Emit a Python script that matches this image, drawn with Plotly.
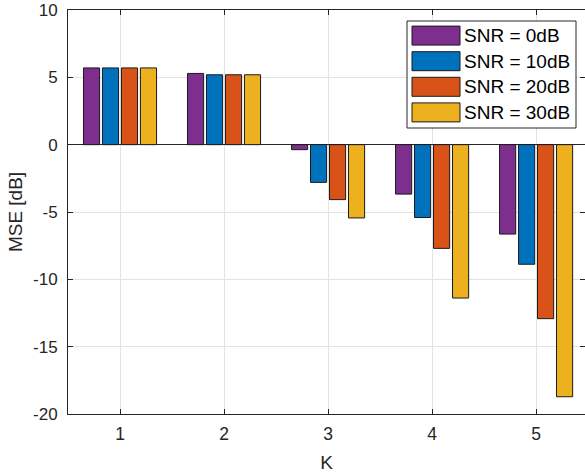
import plotly.graph_objects as go

# Data
k_values = [1, 2, 3, 4, 5]
series_names = ["SNR = 0dB", "SNR = 10dB", "SNR = 20dB", "SNR = 30dB"]
mse_snr0 = [5.70, 5.29, -0.37, -3.67, -6.64]
mse_snr10 = [5.70, 5.19, -2.80, -5.41, -8.88]
mse_snr20 = [5.70, 5.19, -4.08, -7.70, -12.92]
mse_snr30 = [5.70, 5.19, -5.44, -11.39, -18.72]
y_ticks = [-20, -15, -10, -5, 0, 5, 10]

series_values = [mse_snr0, mse_snr10, mse_snr20, mse_snr30]
colors = ["#7E2F8E", "#0072BD", "#D95319", "#EDB120"]

INK = "#262626"
FONT = "Liberation Sans, Arial, Helvetica, sans-serif"

W, H = 585, 476
M_L, M_R, M_T, M_B = 68, 0, 10, 62
PLOT_W = W - M_L - M_R
PLOT_H = H - M_T - M_B

fig = go.Figure()
for name, vals, col in zip(series_names, series_values, colors):
    fig.add_trace(go.Bar(
        x=k_values, y=vals, name=name,
        marker=dict(color=col, line=dict(color="#1a1a1a", width=1)),
        showlegend=False,
    ))


def px_to_paper(px, py):
    return (px - M_L) / PLOT_W, (H - M_B - py) / PLOT_H


# Boxed legend in the upper-right corner
shapes = []
annotations = []
bx0, by0 = px_to_paper(407, 21)
bx1, by1 = px_to_paper(576, 128)
shapes.append(dict(type="rect", xref="paper", yref="paper",
                   x0=bx0, x1=bx1, y0=by1, y1=by0,
                   fillcolor="white", line=dict(color=INK, width=1), layer="above"))
row_centers = [35.6, 61.2, 86.8, 112.4]
for name, col, cy in zip(series_names, colors, row_centers):
    sx0, sy0 = px_to_paper(412, cy - 9.5)
    sx1, sy1 = px_to_paper(460, cy + 9.5)
    shapes.append(dict(type="rect", xref="paper", yref="paper",
                       x0=sx0, x1=sx1, y0=sy1, y1=sy0,
                       fillcolor=col, line=dict(color="#1a1a1a", width=1), layer="above"))
    tx, ty = px_to_paper(462, cy)
    annotations.append(dict(xref="paper", yref="paper", x=tx, y=ty,
                            xanchor="left", yanchor="middle", showarrow=False,
                            text=name, font=dict(family=FONT, size=19, color="black")))

fig.update_layout(
    width=W, height=H,
    margin=dict(l=M_L, r=M_R, t=M_T, b=M_B, pad=0, autoexpand=False),
    paper_bgcolor="white", plot_bgcolor="white",
    barmode="group", bargap=0.27, bargroupgap=0.15,
    font=dict(family=FONT, size=17, color=INK),
    shapes=shapes, annotations=annotations,
    showlegend=False,
)
fig.update_xaxes(
    range=[0.5, 5.47], tickvals=k_values, ticktext=[str(k) for k in k_values],
    showgrid=True, gridcolor="#e3e3e3", gridwidth=1,
    showline=True, linecolor=INK, linewidth=1, mirror="ticks",
    ticks="inside", ticklen=5, tickcolor=INK,
    zeroline=False, automargin=False,
    tickfont=dict(family=FONT, size=17.5, color=INK),
    ticklabelstandoff=4,
    title=dict(text="K", font=dict(family=FONT, size=19, color=INK), standoff=12),
)
fig.update_yaxes(
    range=[-20, 10], tickvals=y_ticks, ticktext=[str(v) for v in y_ticks],
    showgrid=True, gridcolor="#e3e3e3", gridwidth=1,
    showline=True, linecolor=INK, linewidth=1, mirror="ticks",
    ticks="inside", ticklen=5, tickcolor=INK,
    zeroline=True, zerolinecolor=INK, zerolinewidth=1, automargin=False,
    tickfont=dict(family=FONT, size=17, color=INK),
    ticklabelstandoff=6, ticklabeloverflow="allow",
    title=dict(text="MSE [dB]", font=dict(family=FONT, size=19, color=INK), standoff=5),
)

fig.write_html("out.html")
